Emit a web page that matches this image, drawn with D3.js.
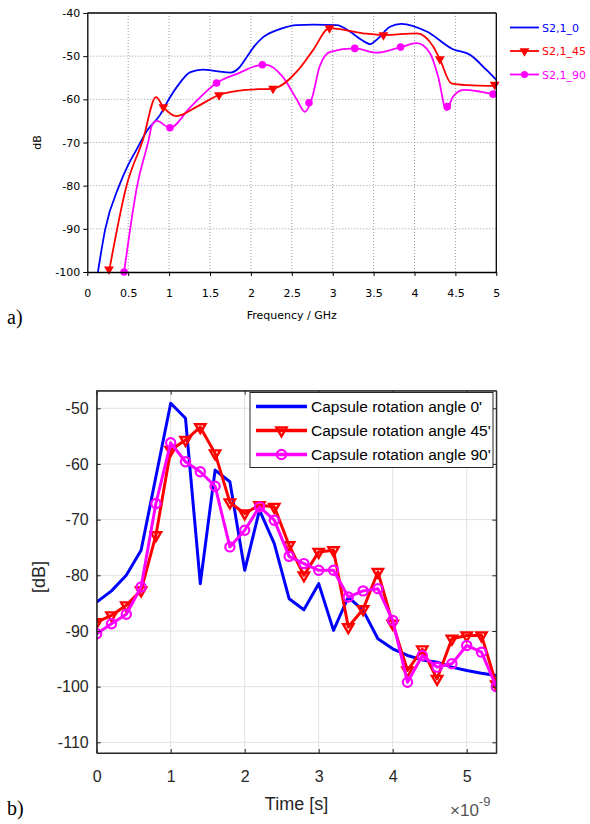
<!DOCTYPE html>
<html><head><meta charset="utf-8">
<script src="https://cdn.jsdelivr.net/npm/d3@7"></script>
<style>body{margin:0;background:#fff}svg{display:block}</style>
</head><body>
<svg id="c" width="590" height="824"></svg>
<script>
// ---------- Chart a) data ----------
const freqTicks = [0, 0.5, 1, 1.5, 2, 2.5, 3, 3.5, 4, 4.5, 5];
const dbTicksA = [-100, -90, -80, -70, -60, -50, -40];
const seriesNamesA = ["S2,1_0", "S2,1_45", "S2,1_90"];

const s0F  = [0.13, 0.22, 0.39, 0.5, 0.6, 0.74, 0.89, 0.99, 1.1, 1.26, 1.41, 1.6, 1.75, 1.85, 1.95, 2.05, 2.15, 2.36, 2.56, 2.76, 3.05, 3.21, 3.35, 3.46, 3.55, 3.7, 3.84, 4.15, 4.47, 4.68, 4.88, 5.0];
const s0dB = [-100, -90, -80, -75.2, -71.7, -67, -63.6, -60.2, -57, -53.7, -53.1, -53.5, -53.8, -52.8, -50.2, -47.5, -45.6, -43.7, -42.8, -42.7, -42.8, -44.3, -46.2, -47.2, -46, -43.2, -42.5, -44.3, -48.4, -49.7, -53.2, -55.5];

const s45F  = [0.265, 0.48, 0.68, 0.84, 0.93, 1.09, 1.34, 1.61, 1.95, 2.27, 2.6, 2.76, 2.96, 3.37, 3.62, 4.03, 4.23, 4.31, 4.45, 4.64, 5.0];
const s45dB = [-100, -80, -69.4, -59.5, -61.8, -63.9, -61.7, -59, -57.8, -57.5, -52.7, -48.6, -43.5, -44.7, -45.1, -44.7, -47.8, -50.7, -56.3, -56.7, -56.9];
const s45MkF  = [0.265, 0.93, 1.61, 2.27, 2.96, 3.62, 4.31, 4.98];
const s45MkdB = [-99.4, -61.8, -59, -57.5, -43.5, -45.1, -50.7, -56.6];

const s90F  = [0.45, 0.61, 0.75, 0.79, 0.85, 1.01, 1.26, 1.58, 1.83, 2.14, 2.19, 2.39, 2.56, 2.66, 2.75, 2.84, 2.97, 3.27, 3.54, 3.83, 4.03, 4.19, 4.29, 4.39, 4.47, 4.6, 4.8, 5.0];
const s90dB = [-100, -80, -69.4, -66, -65, -66.6, -61.8, -56.2, -54.1, -52, -52, -54.8, -60, -62.9, -59.5, -52.4, -49, -48.2, -49.2, -47.9, -47, -49.3, -54.8, -62.5, -59.4, -57.8, -58.2, -58.9];
const s90MkF  = [0.45, 1.01, 1.58, 2.14, 2.71, 3.27, 3.83, 4.40, 4.96];
const s90MkdB = [-100, -66.6, -56.2, -52, -60.8, -48.2, -47.9, -61.7, -58.8];

// ---------- Chart b) data ----------
const timeNs = [0, 0.2, 0.4, 0.6, 0.8, 1.0, 1.2, 1.4, 1.6, 1.8, 2.0, 2.2, 2.4, 2.6, 2.8, 3.0, 3.2, 3.4, 3.6, 3.8, 4.0, 4.2, 4.4, 4.6, 4.8, 5.0, 5.2, 5.4];
const cap0  = [-84.8, -82.8, -80, -75.5, -62.3, -49.1, -51.8, -81.5, -61.1, -63.2, -79.1, -68.3, -74.3, -84.2, -86.2, -81.5, -89.9, -83.9, -86.3, -91.4, -93.2, -94.4, -95.2, -95.6, -96.5, -97.1, -97.6, -98];
const cap45 = [-88.4, -87.2, -85.4, -82.7, -72.8, -57.5, -55.7, -53.4, -58.1, -66.9, -68.9, -67.4, -67.7, -74.6, -80, -75.8, -75.5, -89.3, -86.1, -79.4, -88.7, -97.1, -93.3, -98.6, -91.4, -90.8, -90.8, -99.6];
const cap90 = [-90.5, -88.7, -87, -82.1, -67.1, -56.2, -59.6, -61.4, -64, -74.9, -71.9, -67.7, -70.1, -76.6, -77.9, -79.1, -79.1, -83.9, -82.8, -82.4, -88.1, -99.2, -94.4, -96.5, -95.9, -92.6, -93.8, -100];
const timeTicks = [0, 1, 2, 3, 4, 5];
const dbTicksB = [-110, -100, -90, -80, -70, -60, -50];
const seriesNamesB = ["Capsule rotation angle 0'", "Capsule rotation angle 45'", "Capsule rotation angle 90'"];

const BLUE = "#0000ff", RED = "#ff0000", MAG = "#ff00ff";
const svg = d3.select("#c");
const zip = (a, b) => a.map((v, i) => [v, b[i]]);
const defs = svg.append("defs");

// ================= Chart a) =================
{
  const L = 87.3, R = 496.3, T = 13, B = 272;
  const x = d3.scaleLinear().domain([0, 5]).range([L, R]);
  const y = d3.scaleLinear().domain([-100, -40]).range([B, T]);
  const g = svg.append("g");
  const font = "'DejaVu Sans', Verdana, sans-serif";

  g.append("g").selectAll("line").data(freqTicks.slice(1, -1)).join("line")
    .attr("x1", d => x(d)).attr("x2", d => x(d)).attr("y1", T).attr("y2", B)
    .attr("stroke", "#9a9a9a").attr("stroke-width", 1).attr("stroke-dasharray", "1,2");
  g.append("g").selectAll("line").data(dbTicksA.slice(1, -1)).join("line")
    .attr("y1", d => y(d)).attr("y2", d => y(d)).attr("x1", L).attr("x2", R)
    .attr("stroke", "#9a9a9a").attr("stroke-width", 1).attr("stroke-dasharray", "1,2");

  defs.append("clipPath").attr("id", "clipA").append("rect")
    .attr("x", L).attr("y", T).attr("width", R - L).attr("height", B - T + 1);

  const line = d3.line().x(d => x(d[0])).y(d => y(d[1])).curve(d3.curveMonotoneX);
  const lg = g.append("g").attr("clip-path", "url(#clipA)");
  lg.append("path").attr("d", line(zip(s0F, s0dB))).attr("fill", "none").attr("stroke", BLUE).attr("stroke-width", 1.8);
  lg.append("path").attr("d", line(zip(s90F, s90dB))).attr("fill", "none").attr("stroke", MAG).attr("stroke-width", 1.8);
  lg.append("path").attr("d", line(zip(s45F, s45dB))).attr("fill", "none").attr("stroke", RED).attr("stroke-width", 1.8);

  const tri = d3.symbol().type(d3.symbolTriangle).size(42);
  g.append("g").selectAll("path").data(zip(s45MkF, s45MkdB)).join("path")
    .attr("d", tri()).attr("transform", d => `translate(${x(d[0])},${y(d[1])}) rotate(180)`)
    .attr("fill", RED);
  g.append("g").selectAll("circle").data(zip(s90MkF, s90MkdB)).join("circle")
    .attr("cx", d => x(d[0])).attr("cy", d => y(d[1])).attr("r", 3.8).attr("fill", MAG);

  const xa = g.append("g").attr("transform", `translate(0,${B})`)
    .call(d3.axisBottom(x).tickValues(freqTicks).tickFormat(d => String(d)).tickSize(4).tickPadding(13).tickSizeOuter(0));
  const ya = g.append("g").attr("transform", `translate(${L},0)`)
    .call(d3.axisLeft(y).tickValues(dbTicksA).tickFormat(d => String(d)).tickSize(4).tickPadding(3).tickSizeOuter(0));
  [xa, ya].forEach(a => {
    a.selectAll("text").attr("font-family", font).attr("font-size", 11).attr("fill", "#000");
    a.selectAll("line").attr("stroke", "#000");
    a.select(".domain").attr("stroke", "#000").attr("stroke-width", 1.3);
  });
  g.append("line").attr("x1", L).attr("x2", R).attr("y1", T).attr("y2", T).attr("stroke", "#000").attr("stroke-width", 1.3);
  g.append("line").attr("x1", R).attr("x2", R).attr("y1", T).attr("y2", B).attr("stroke", "#000").attr("stroke-width", 1.3);

  g.append("text").attr("x", (L + R) / 2).attr("y", 319).attr("text-anchor", "middle")
    .attr("font-family", font).attr("font-size", 11).text("Frequency / GHz");
  g.append("text").attr("transform", `translate(41,${(T + B) / 2}) rotate(-90)`).attr("text-anchor", "middle")
    .attr("font-family", font).attr("font-size", 11).text("dB");

  const cols = [BLUE, RED, MAG];
  const leg = g.append("g");
  seriesNamesA.forEach((n, i) => {
    const yy = 27.5 + i * 23.5;
    leg.append("line").attr("x1", 510).attr("x2", 539).attr("y1", yy).attr("y2", yy).attr("stroke", cols[i]).attr("stroke-width", 1.8);
    if (i === 1) leg.append("path").attr("d", tri()).attr("transform", `translate(524.5,${yy}) rotate(180)`).attr("fill", RED);
    if (i === 2) leg.append("circle").attr("cx", 524.5).attr("cy", yy).attr("r", 3.5).attr("fill", MAG);
    leg.append("text").attr("x", 542).attr("y", yy + 4).attr("font-family", font).attr("font-size", 11)
      .attr("fill", cols[i]).text(n);
  });

  svg.append("text").attr("x", 7).attr("y", 324).attr("font-family", "'Liberation Serif', 'Times New Roman', serif")
    .attr("font-size", 20).text("a)");
}

// ================= Chart b) =================
{
  const L = 96.7, R = 496.3, T = 390.7, B = 753;
  const x = d3.scaleLinear().domain([0, 5.4]).range([L, R]);
  const y = d3.scaleLinear().domain([-111.92, -46.84]).range([B, T]);
  const g = svg.append("g");
  const font = "'Liberation Sans', Arial, Helvetica, sans-serif";
  const AX = "#262626";

  g.append("g").selectAll("line").data(timeTicks.slice(1)).join("line")
    .attr("x1", d => x(d)).attr("x2", d => x(d)).attr("y1", T).attr("y2", B)
    .attr("stroke", "#e1e1e1").attr("stroke-width", 1);
  g.append("g").selectAll("line").data(dbTicksB).join("line")
    .attr("y1", d => y(d)).attr("y2", d => y(d)).attr("x1", L).attr("x2", R)
    .attr("stroke", "#e1e1e1").attr("stroke-width", 1);

  defs.append("clipPath").attr("id", "clipB").append("rect")
    .attr("x", L).attr("y", T).attr("width", R - L).attr("height", B - T);

  const line = d3.line().x(d => x(d[0])).y(d => y(d[1]));
  const lg = g.append("g").attr("clip-path", "url(#clipB)");
  lg.append("path").attr("d", line(zip(timeNs, cap0))).attr("fill", "none").attr("stroke", BLUE).attr("stroke-width", 3).attr("stroke-linejoin", "round");
  lg.append("path").attr("d", line(zip(timeNs, cap45))).attr("fill", "none").attr("stroke", RED).attr("stroke-width", 3).attr("stroke-linejoin", "round");
  const tri = d3.symbol().type(d3.symbolTriangle).size(46);
  lg.append("g").selectAll("path").data(zip(timeNs, cap45)).join("path")
    .attr("d", tri()).attr("transform", d => `translate(${x(d[0])},${y(d[1])}) rotate(180)`)
    .attr("fill", "none").attr("stroke", RED).attr("stroke-width", 2.4);
  lg.append("path").attr("d", line(zip(timeNs, cap90))).attr("fill", "none").attr("stroke", MAG).attr("stroke-width", 3).attr("stroke-linejoin", "round");
  lg.append("g").selectAll("circle").data(zip(timeNs, cap90)).join("circle")
    .attr("cx", d => x(d[0])).attr("cy", d => y(d[1])).attr("r", 4.6)
    .attr("fill", "none").attr("stroke", MAG).attr("stroke-width", 2.2);

  g.append("rect").attr("x", L).attr("y", T).attr("width", R - L).attr("height", B - T)
    .attr("fill", "none").attr("stroke", AX).attr("stroke-width", 1);
  const xa = g.append("g").attr("transform", `translate(0,${B})`)
    .call(d3.axisBottom(x).tickValues(timeTicks).tickFormat(d => String(d)).tickSize(-4).tickPadding(18).tickSizeOuter(0));
  const xt = g.append("g").attr("transform", `translate(0,${T})`)
    .call(d3.axisTop(x).tickValues(timeTicks).tickFormat("").tickSize(-4).tickSizeOuter(0));
  const ya = g.append("g").attr("transform", `translate(${L},0)`)
    .call(d3.axisLeft(y).tickValues(dbTicksB).tickFormat(d => String(d)).tickSize(-4).tickPadding(8).tickSizeOuter(0));
  const yr = g.append("g").attr("transform", `translate(${R},0)`)
    .call(d3.axisRight(y).tickValues(dbTicksB).tickFormat("").tickSize(-4).tickSizeOuter(0));
  [xa, xt, ya, yr].forEach(a => {
    a.selectAll("text").attr("font-family", font).attr("font-size", 16).attr("fill", AX);
    a.selectAll("line").attr("stroke", AX);
    a.select(".domain").attr("stroke", AX);
  });

  g.append("text").attr("x", (L + R) / 2).attr("y", 810).attr("text-anchor", "middle")
    .attr("font-family", font).attr("font-size", 18).attr("fill", AX).text("Time [s]");
  g.append("text").attr("transform", `translate(45,577) rotate(-90)`).attr("text-anchor", "middle")
    .attr("font-family", font).attr("font-size", 18).attr("fill", AX).text("[dB]");
  const ex = g.append("text").attr("x", 450).attr("y", 816).attr("font-family", font).attr("font-size", 17).attr("fill", "#555");
  ex.append("tspan").text("\u00d710");
  ex.append("tspan").attr("dy", -10).attr("font-size", 13).text("-9");

  const cols = [BLUE, RED, MAG];
  const leg = g.append("g");
  leg.append("rect").attr("x", 250).attr("y", 392.5).attr("width", 243).attr("height", 75)
    .attr("fill", "#fff").attr("stroke", AX).attr("stroke-width", 1);
  seriesNamesB.forEach((n, i) => {
    const yy = 406.5 + i * 24;
    leg.append("line").attr("x1", 256).attr("x2", 307).attr("y1", yy).attr("y2", yy).attr("stroke", cols[i]).attr("stroke-width", 3.5);
    if (i === 1) leg.append("path").attr("d", tri()).attr("transform", `translate(281.5,${yy}) rotate(180)`)
      .attr("fill", "none").attr("stroke", RED).attr("stroke-width", 2.4);
    if (i === 2) leg.append("circle").attr("cx", 281.5).attr("cy", yy).attr("r", 4.6)
      .attr("fill", "none").attr("stroke", MAG).attr("stroke-width", 2.2);
    leg.append("text").attr("x", 311).attr("y", yy + 5.5).attr("font-family", font).attr("font-size", 15.5)
      .attr("fill", "#000").text(n);
  });

  svg.append("text").attr("x", 7).attr("y", 815).attr("font-family", "'Liberation Serif', 'Times New Roman', serif")
    .attr("font-size", 20).text("b)");
}
</script>
</body></html>
